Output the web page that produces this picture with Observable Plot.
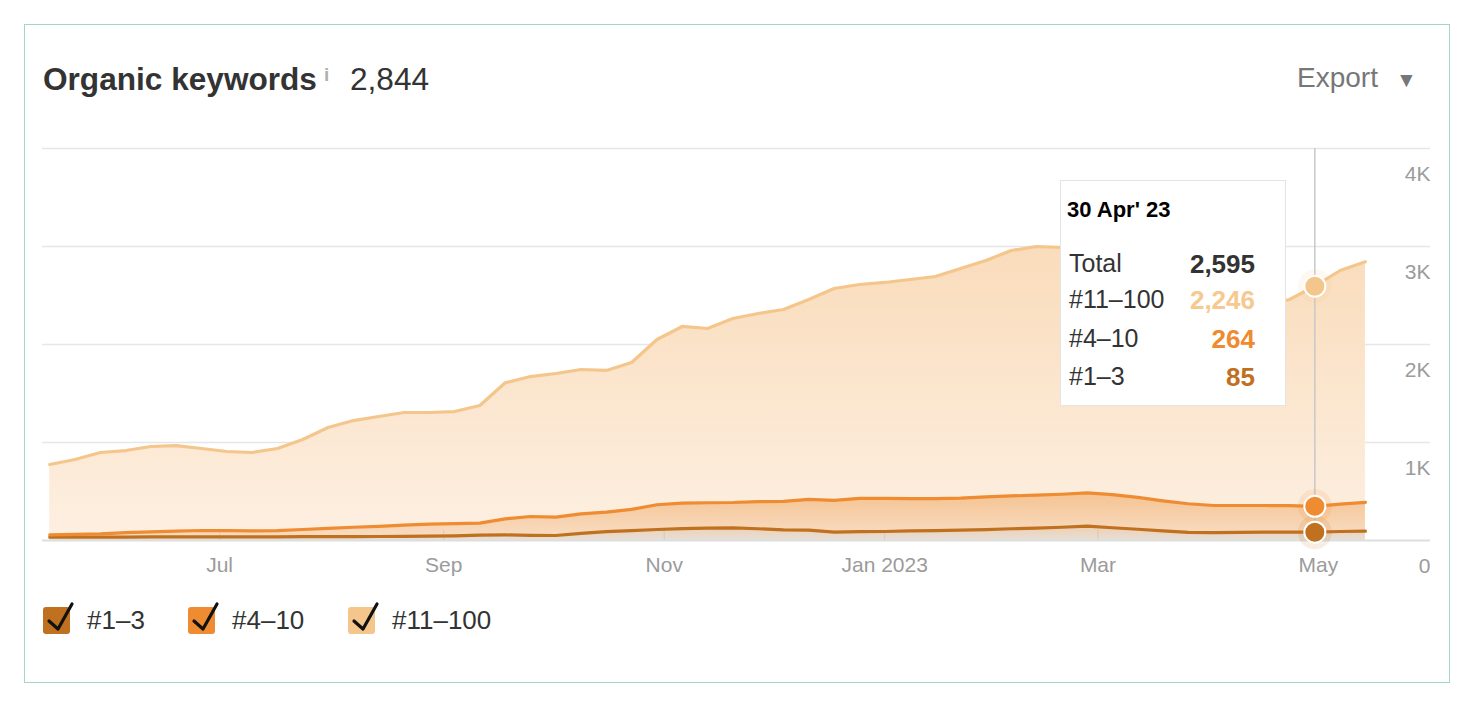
<!DOCTYPE html>
<html>
<head>
<meta charset="utf-8">
<script src="https://cdn.jsdelivr.net/npm/d3@7"></script>
<script src="https://cdn.jsdelivr.net/npm/@observablehq/plot@0.6"></script>
<style>
  html, body { margin: 0; padding: 0; background: #fff; }
  body { width: 1473px; height: 706px; position: relative; font-family: "Liberation Sans", Arial, sans-serif; color: #333; overflow: hidden; }
  .abs { position: absolute; line-height: 1; white-space: nowrap; }
  #card { position: absolute; left: 24px; top: 24px; width: 1426px; height: 659px; border: 1.5px solid #a3d4cd; box-sizing: border-box; z-index: 5; pointer-events: none; }
  #chart { position: absolute; left: 0; top: 130px; }
  #tooltip { position: absolute; left: 1060px; top: 180px; width: 226px; height: 226px; background: #fff; border: 1.5px solid #e4e4e4; box-sizing: border-box; z-index: 3; }
  .sw { position: absolute; top: 607px; width: 27px; height: 27px; border-radius: 3px; }
  .sw svg { position: absolute; left: 0; top: 0; overflow: visible; }
</style>
</head>
<body>
<div id="card"></div>
<div class="abs" style="left:43px;top:64px;font-size:31.6px;font-weight:bold;color:#333;">Organic keywords</div>
<div class="abs" style="left:324px;top:65px;font-size:19px;font-weight:bold;color:#b0b0b0;">i</div>
<div class="abs" style="left:350px;top:64px;font-size:31.6px;color:#333;">2,844</div>
<div class="abs" style="left:1297px;top:64px;font-size:28px;color:#777;">Export</div>
<div class="abs" style="left:1396px;top:69px;font-size:21px;color:#777;">▼</div>
<div id="chart"></div>
<div id="tooltip"></div>
<div id="legend"></div>
<script>
// ---- data ----
const seriesNames = ["#1–3", "#4–10", "#11–100"];
const startDate = "2022-05-15";      // weekly observations
const stepDays = 7;
const top3 = [34,34,35,35,36,36,37,37,38,38,39,39,40,41,42,44,48,55,57,52,51,72,90,100,112,122,127,129,120,108,105,86,90,92,98,100,105,110,120,127,135,146,130,115,98,82,80,82,85,85,85,92,95];
const top4to10 = [24,29,33,45,52,60,65,63,61,62,73,85,95,104,115,124,124,122,163,193,187,200,199,218,253,260,258,259,277,292,315,324,340,337,329,327,328,335,335,336,337,339,338,325,307,293,277,275,272,270,264,280,295];
const top11to100 = [718,764,830,838,871,873,837,808,799,839,919,1029,1089,1120,1149,1138,1144,1201,1390,1428,1466,1473,1446,1498,1686,1802,1778,1877,1919,1957,2039,2161,2182,2204,2236,2267,2343,2412,2504,2537,2518,2495,2471,2397,2299,2176,2092,2051,2051,2104,2246,2383,2454];
const monthTicks = ["2022-07-01","2022-09-01","2022-11-01","2023-01-01","2023-03-01","2023-05-01"];
const monthLabels = ["Jul","Sep","Nov","Jan 2023","Mar","May"];
const yTicks = [0, 1000, 2000, 3000, 4000];
const yLabels = ["0", "1K", "2K", "3K", "4K"];
const xDomain = ["2022-05-13", "2023-06-01"];
const tooltipDate = "2023-04-30";
const tooltipTitle = "30 Apr' 23";

// ---- styles ----
const strokeColors = {"#1–3": "#c0711f", "#4–10": "#ef8c31", "#11–100": "#f5c68b"};
const fillUrls = {"#1–3": "url(#g13)", "#4–10": "url(#g410)", "#11–100": "url(#g11100)"};

const seriesValues = [top3, top4to10, top11to100];
const t0 = new Date(startDate + "T00:00:00Z");
const rows = [];
top3.forEach((_, i) => {
  const date = d3.utcDay.offset(t0, i * stepDays);
  seriesNames.forEach((s, j) => rows.push({date, series: s, value: seriesValues[j][i]}));
});
const tipTime = +new Date(tooltipDate + "T00:00:00Z");
const tipRows = rows.filter(r => +r.date === tipTime);
const ticksD = monthTicks.map(d => new Date(d + "T00:00:00Z"));
const order = seriesNames;

const plot = Plot.plot({
  width: 1473,
  height: 450,
  marginTop: 18,
  marginBottom: 40,
  marginLeft: 42,
  marginRight: 43,
  style: {background: "transparent", fontFamily: "Liberation Sans, Arial, sans-serif"},
  x: {type: "utc", domain: xDomain.map(d => new Date(d + "T00:00:00Z")), axis: null},
  y: {domain: [0, 4000], axis: null},
  color: {type: "identity"},
  marks: [
    Plot.ruleY(yTicks.slice(1), {stroke: "#e6e6e6", strokeWidth: 1.5}),
    Plot.areaY(rows, Plot.stackY({x: "date", y: "value", z: "series", order, fill: d => fillUrls[d.series]})),
    Plot.ruleY([0], {stroke: "#dedede", strokeWidth: 2}),
    Plot.ruleX(ticksD, {x: d => d, stroke: "#000", strokeOpacity: 0.08, insetTop: 382}),
    Plot.lineY(rows, Plot.stackY2({x: "date", y: "value", z: "series", order, stroke: d => strokeColors[d.series], strokeWidth: 3.2})),
    Plot.ruleX([new Date(tipTime)], {stroke: "#c8c8c8", strokeWidth: 1.5}),
    Plot.dot(tipRows, Plot.stackY2({x: "date", y: "value", z: "series", order, r: 17, fill: d => strokeColors[d.series], fillOpacity: 0.13})),
    Plot.dot(tipRows, Plot.stackY2({x: "date", y: "value", z: "series", order, r: 10.5, fill: d => strokeColors[d.series], stroke: "#fff", strokeWidth: 2})),
    Plot.text(yTicks, {y: d => d, text: yLabels, frameAnchor: "right", textAnchor: "end", lineAnchor: "middle", dy: 26, fontSize: 21, fill: "#9b9b9b"}),
    Plot.text(ticksD, {x: d => d, text: monthLabels, frameAnchor: "bottom", lineAnchor: "middle", dy: 25, fontSize: 21, fill: "#9b9b9b"})
  ]
});

// gradients
const defs = d3.select(plot).insert("defs", ":first-child");
function grad(id, stops) {
  const g = defs.append("linearGradient").attr("id", id).attr("x1", 0).attr("y1", 0).attr("x2", 0).attr("y2", 1);
  stops.forEach(([o, c]) => g.append("stop").attr("offset", o).attr("stop-color", c));
}
grad("g11100", [[0, "#f9dcbb"], [1, "#fdefe1"]]);
grad("g410", [[0, "#f5c391"], [1, "#f8dcc2"]]);
grad("g13", [[0, "#efcfae"], [1, "#e6dfd8"]]);
document.getElementById("chart").appendChild(plot);

// tooltip
const tip = document.getElementById("tooltip");
const byS = Object.fromEntries(tipRows.map(r => [r.series, r.value]));
const total = d3.sum(tipRows, r => r.value);
const fmt = d3.format(",");
const tipLines = [
  ["Total", total, "#333"],
  ["#11–100", byS["#11–100"], "#f6c990"],
  ["#4–10", byS["#4–10"], "#ef8a2e"],
  ["#1–3", byS["#1–3"], "#c0711f"]
];
let html = `<div class="abs" style="left:6px;top:18px;font-size:22px;font-weight:bold;color:#000;">${tooltipTitle}</div>`;
const rowY = [83, 119, 158, 196];
tipLines.forEach(([label, v, c], i) => {
  html += `<div class="abs" style="left:8px;top:${rowY[i] - 13}px;font-size:25px;color:#333;">${label}</div>`;
  html += `<div class="abs" style="right:30px;top:${rowY[i] - 13}px;font-size:26px;font-weight:bold;color:${c};">${fmt(v)}</div>`;
});
tip.innerHTML = html;

// legend
const legX = [43, 188, 348];
const legend = document.getElementById("legend");
let lh = "";
seriesNames.forEach((s, i) => {
  lh += `<div class="sw" style="left:${legX[i]}px;background:${strokeColors[s]};"><svg width="27" height="27"><polyline points="6,14 15,22 29,-3" fill="none" stroke="#111" stroke-width="3.2" stroke-linecap="round" stroke-linejoin="round"/></svg></div>`;
  lh += `<div class="abs" style="left:${legX[i] + 44}px;top:607px;font-size:26px;color:#333;">${s}</div>`;
});
legend.innerHTML = lh;
</script>
</body>
</html>
